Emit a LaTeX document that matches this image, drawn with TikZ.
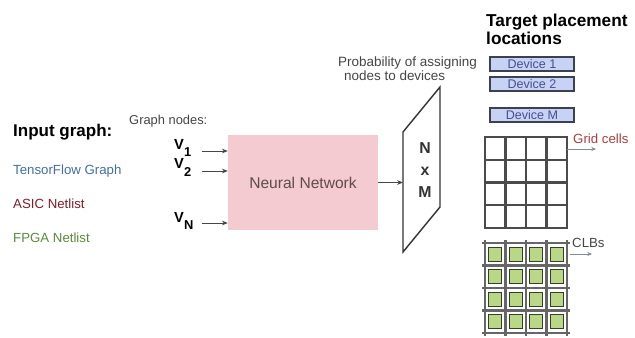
\documentclass[tikz,border=0pt]{standalone}
\usepackage{fontspec}
\setmainfont{Liberation Sans}
\usetikzlibrary{arrows.meta}
\definecolor{nnpink}{RGB}{243,203,208}
\definecolor{nntext}{RGB}{95,75,80}
\definecolor{tfblue}{RGB}{70,110,160}
\definecolor{asicred}{RGB}{130,30,40}
\definecolor{fpgagreen}{RGB}{90,140,60}
\definecolor{devfill}{RGB}{200,210,245}
\definecolor{devdraw}{RGB}{60,65,80}
\definecolor{devtext}{RGB}{70,80,140}
\definecolor{gridc}{RGB}{75,75,75}
\definecolor{gcred}{RGB}{170,60,60}
\definecolor{clbgreen}{RGB}{185,215,135}
\definecolor{clbdraw}{RGB}{50,65,40}
\definecolor{arrgray}{RGB}{130,140,150}
\definecolor{txtgray}{RGB}{70,70,70}
\begin{document}
\begin{tikzpicture}[x=0.03cm,y=-0.03cm,
  txt/.style={inner sep=0pt, anchor=base west},
  small/.style={txt, font=\fontsize{11.3}{13}\selectfont},
  vlab/.style={txt, font=\bfseries\fontsize{12.5}{14}\selectfont},
  arr/.style={-{Stealth[length=5pt,width=4pt]}, line width=0.8pt, draw=txtgray},
  garr/.style={-{Stealth[length=4pt,width=3.5pt]}, line width=0.8pt, draw=arrgray},
  devbox/.style={draw=devdraw, line width=1.2pt, fill=devfill, inner sep=0pt,
    minimum width=2.52cm, minimum height=0.42cm, text=devtext,
    font=\fontsize{10.7}{12}\selectfont},
  gridline/.style={draw=gridc, line width=2pt, line cap=rect},
  clbline/.style={draw=gridc!85, line width=1.8pt},
  clbsq/.style={draw=clbdraw, line width=1.2pt, fill=clbgreen}]
\useasboundingbox (0,0) rectangle (635,338);
\fill[white] (0,0) rectangle (635,338);

% left column
\node[txt, font=\bfseries\fontsize{14.5}{16}\selectfont] (ig) at (13,137) {Input graph:};
\node[small, text=tfblue] (tf) at (13,175) {TensorFlow Graph};
\node[small, text=asicred] (asic) at (13,208) {ASIC Netlist};
\node[small, text=fpgagreen] (fpga) at (13,242) {FPGA Netlist};

\node[small, text=txtgray, font=\fontsize{11}{13}\selectfont] (gn) at (129,125) {Graph nodes:};

% neural network
\node[fill=nnpink, minimum width=4.5cm, minimum height=2.85cm, text=nntext,
  font=\fontsize{13.3}{15}\selectfont] (nn) at (303,182.5) {Neural Network};

% inputs
\node[vlab] (v1) at (174,149) {V\raisebox{-6.8pt}{\fontsize{11}{12}\selectfont 1}};
\node[vlab] (v2) at (174,169) {V\raisebox{-6.8pt}{\fontsize{11}{12}\selectfont 2}};
\node[vlab] (vn) at (174,222) {V\raisebox{-6.8pt}{\fontsize{11}{12}\selectfont N}};
\coordinate (a1) at (202,151);
\coordinate (a2) at (202,171);
\coordinate (an) at (202,223);
\draw[arr] (a1) -- (a1 -| nn.west);
\draw[arr] (a2) -- (a2 -| nn.west);
\draw[arr] (an) -- (an -| nn.west);

% output matrix
\coordinate (p1) at (403,132);
\coordinate (p2) at (440,87);
\coordinate (p3) at (440,207);
\coordinate (p4) at (403,252);
\draw[line width=1.2pt, draw=black!80] (p1) -- (p2) -- (p3) -- (p4) -- cycle;
\coordinate (pin) at (403,182.5);
\draw[arr] (nn.east) -- (pin);
\node[align=center, font=\bfseries\fontsize{13.5}{18.5}\selectfont, text=black!80] (nxm) at (425,170) {N\\x\\M};

\node[small, align=left, text=txtgray, font=\fontsize{11.5}{12.3}\selectfont] (prob) at (338,81) {Probability of assigning\\\hspace*{5pt}nodes to devices};

% target
\node[txt, align=left, font=\bfseries\fontsize{14.7}{15.5}\selectfont] (tgt) at (486,45) {Target placement\\locations};

\node[devbox] (d1) at (532,64) {Device 1};
\node[devbox] (d2) at (532,84) {Device 2};
\node[devbox] (dm) at (532,115) {Device M};

% grid cells
\foreach \i in {0,...,4} {
  \draw[gridline] ({485+\i*20.5},137) -- ({485+\i*20.5},228);
  \draw[gridline] (485,{137+\i*22.75}) -- (567,{137+\i*22.75});
}
\node[small, text=gcred] (gc) at (573,143) {Grid cells};
\coordinate (gca) at (567,149);
\coordinate (gcb) at (596,149);
\draw[garr] (gca) -- (gcb);

% CLBs
\foreach \x in {485,505.5,526,546.5,567} {
  \draw[clbline] (\x,240) -- (\x,336);
}
\foreach \y in {243,265.5,288,310.5,333} {
  \draw[clbline] (482,\y) -- (570,\y);
}
\foreach \i in {0,...,3} {
  \foreach \j in {0,...,3} {
    \draw[clbsq] ({495.25+\i*20.5-6.5},{254.25+\j*22.5-7}) rectangle ++(13,14);
  }
}
\node[small, text=txtgray] (clb) at (572,247) {CLBs};
\coordinate (cla) at (570,254);
\coordinate (clb2) at (592,254);
\draw[garr] (cla) -- (clb2);
\end{tikzpicture}
\end{document}
